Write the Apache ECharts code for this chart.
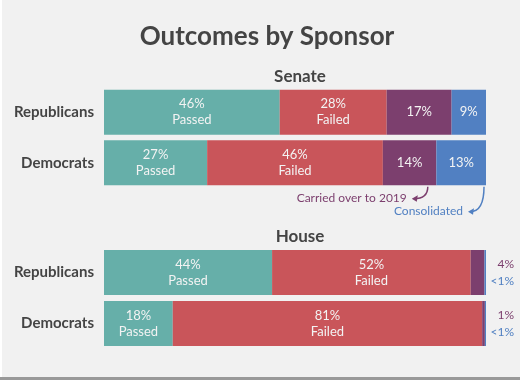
<!DOCTYPE html>
<html><head><meta charset="utf-8">
<script src="https://cdn.jsdelivr.net/npm/echarts@6/dist/echarts.min.js"></script>
<style>html,body{margin:0;padding:0;background:#f1f1f1}#c{width:520px;height:380px}</style>
</head><body><div id="c"></div>
<script>
const categories = ['Republicans', 'Democrats'];
const outcomes = ['Passed', 'Failed', 'Carried over to 2019', 'Consolidated'];
// Senate values (%)
const senatePassed = [46, 27];
const senateFailed = [28, 46];
const senateCarried = [17, 14];
const senateConsolidated = [9, 13];
// House values (%)
const housePassed = [44, 18];
const houseFailed = [52, 81];
const houseCarried = [3.6, 0.7];
const houseConsolidated = [0.4, 0.3];
// labels shown
const senateLabels = {passed: ['46%', '27%'], failed: ['28%', '46%'], carried: ['17%', '14%'], cons: ['9%', '13%']};
const houseLabels = {passed: ['44%', '18%'], failed: ['52%', '81%'], carried: ['4%', '1%'], cons: ['<1%', '<1%']};

const colors = ['#66afa9', '#c9555a', '#7c3f6e', '#5180c2'];
const FONT = 'Lato';
const chart = echarts.init(document.getElementById('c'), null, {renderer: 'canvas'});

function inLabel(texts, word) {
  return {
    show: true, position: 'inside', color: '#f3f3f3', fontFamily: FONT, fontSize: 13, lineHeight: 16,
    formatter: p => word ? texts[p.dataIndex] + '\n' + word : texts[p.dataIndex]
  };
}
function series(gi, vals, ci, label) {
  return {
    type: 'bar', stack: 's' + gi, xAxisIndex: gi, yAxisIndex: gi, barWidth: 45,
    name: outcomes[ci], data: vals, itemStyle: {color: colors[ci]}, label: label,
    emphasis: {disabled: true}, silent: true
  };
}
const yAx = gi => ({
  type: 'category', data: categories, inverse: true, gridIndex: gi,
  axisLine: {show: false}, axisTick: {show: false},
  axisLabel: {color: '#444', fontFamily: FONT, fontWeight: 'bold', fontSize: 15, margin: 10}
});
const xAx = gi => ({type: 'value', min: 0, max: 100, gridIndex: gi, show: false});

const option = {
  backgroundColor: '#f1f1f1',
  animation: false,
  title: [
    {text: 'Outcomes by Sponsor', left: 262, top: 19, textAlign: 'center',
     textStyle: {color: '#444', fontFamily: FONT, fontWeight: 'bold', fontSize: 26}},
    {text: 'Senate', left: 295, top: 63, textAlign: 'center',
     textStyle: {color: '#444', fontFamily: FONT, fontWeight: 'bold', fontSize: 17}},
    {text: 'House', left: 295, top: 223, textAlign: 'center',
     textStyle: {color: '#444', fontFamily: FONT, fontWeight: 'bold', fontSize: 17}}
  ],
  grid: [
    {left: 104, right: 34, top: 87, height: 101},
    {left: 104, right: 34, top: 247, height: 102}
  ],
  xAxis: [xAx(0), xAx(1)],
  yAxis: [yAx(0), yAx(1)],
  series: [
    series(0, senatePassed, 0, inLabel(senateLabels.passed, 'Passed')),
    series(0, senateFailed, 1, inLabel(senateLabels.failed, 'Failed')),
    series(0, senateCarried, 2, inLabel(senateLabels.carried)),
    series(0, senateConsolidated, 3, inLabel(senateLabels.cons)),
    series(1, housePassed, 0, inLabel(houseLabels.passed, 'Passed')),
    series(1, houseFailed, 1, inLabel(houseLabels.failed, 'Failed')),
    series(1, houseCarried, 2, {show: false}),
    series(1, houseConsolidated, 3, {
      show: true, position: 'right', distance: 6, fontFamily: FONT,
      formatter: p => '{a|' + houseLabels.carried[p.dataIndex] + '}\n{b|' + houseLabels.cons[p.dataIndex] + '}',
      rich: {
        a: {color: '#7c3f6e', fontFamily: FONT, fontSize: 12, lineHeight: 17, align: 'right', width: 22},
        b: {color: '#5180c2', fontFamily: FONT, fontSize: 12, lineHeight: 17, align: 'right', width: 22}
      }
    })
  ]
};
chart.setOption(option);

// Annotations anchored to the Dem senate bar segments
const carriedPt = chart.convertToPixel({gridIndex: 0}, [senatePassed[1] + senateFailed[1] + senateCarried[1] * 0.84, categories[1]]);
const consPt = chart.convertToPixel({gridIndex: 0}, [senatePassed[1] + senateFailed[1] + senateCarried[1] + senateConsolidated[1] * 0.96, categories[1]]);
const barBottom = carriedPt[1] + 23;
const purple = colors[2], blue = colors[3];
function arrow(x0, y0, x1, y1, color) {
  return [
    {type: 'bezierCurve', shape: {x1: x0, y1: y0, cpx1: x0, cpy1: y1, x2: x1 + 1, y2: y1},
     style: {stroke: color, lineWidth: 1.5, fill: null}, silent: true},
    {type: 'polygon', shape: {points: [[x1 - 1, y1], [x1 + 5, y1 - 3.5], [x1 + 4, y1 + 3]]},
     style: {fill: color}, silent: true}
  ];
}
chart.setOption({
  graphic: [
    {type: 'rect', shape: {x: 0, y: 0, width: 2, height: 380}, style: {fill: '#ffffff'}, silent: true},
    {type: 'rect', shape: {x: 0, y: 377, width: 520, height: 3}, style: {fill: '#999999'}, silent: true},
    {type: 'text', x: carriedPt[0] - 21, y: barBottom + 12, style: {text: outcomes[2], fill: purple, font: '12px Lato', align: 'right', verticalAlign: 'middle'}, silent: true},
    ...arrow(carriedPt[0], barBottom + 1, carriedPt[0] - 15, barBottom + 13, purple),
    {type: 'text', x: consPt[0] - 21, y: barBottom + 25, style: {text: outcomes[3], fill: blue, font: '12px Lato', align: 'right', verticalAlign: 'middle'}, silent: true},
    ...arrow(consPt[0], barBottom + 1, consPt[0] - 15, barBottom + 26, blue)
  ]
});
</script></body></html>
